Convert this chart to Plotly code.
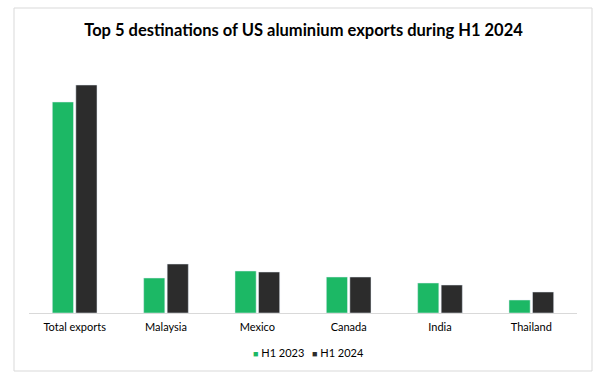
import plotly.graph_objects as go

categories = ["Total exports", "Malaysia", "Mexico", "Canada", "India", "Thailand"]
h1_2023 = [211, 35, 42, 36, 30, 13]
h1_2024 = [228, 49, 41, 36, 28, 21]
series_names = ["H1 2023", "H1 2024"]
series_colors = ["#1CB865", "#2C2C2C"]
title_text = "Top 5 destinations of US aluminium exports during H1 2024"

W, H = 607, 388
L, R, T, B = 29, 30, 70, 75
pw, ph = W - L - R, H - T - B

def px_x(x):
    return (x - L) / pw

def px_y(y):
    return (H - B - y) / ph

fig = go.Figure()
fig.add_trace(go.Bar(x=categories, y=h1_2023, name=series_names[0], marker_color=series_colors[0]))
fig.add_trace(go.Bar(x=categories, y=h1_2024, name=series_names[1], marker_color=series_colors[1]))

legend_x = [251, 310]
annotations = []
for name, color, lx in zip(series_names, series_colors, legend_x):
    annotations.append(dict(
        xref="paper", yref="paper", x=px_x(lx), y=px_y(352), xanchor="left", yanchor="middle",
        showarrow=False,
        text=f"<span style='color:{color};font-size:9px'>■</span> {name}",
        font=dict(size=11, color="black", family="Lato"),
    ))

fig.update_layout(
    width=W, height=H,
    margin=dict(l=L, r=R, t=T, b=B),
    paper_bgcolor="white", plot_bgcolor="white",
    barmode="group", bargap=0.485, bargroupgap=0.1,
    font=dict(family="Lato", color="black", size=11),
    title=dict(text="<b>" + title_text + "</b>", x=0.5, xanchor="center",
               y=1 - 30 / H, yanchor="middle", font=dict(size=16.5, family="Lato", color="black")),
    xaxis=dict(showline=True, linecolor="#D9D9D9", linewidth=1, ticks="outside", ticklen=4,
               tickcolor="rgba(0,0,0,0)",
               tickfont=dict(size=11, color="black"), showgrid=False),
    yaxis=dict(range=[0, ph], visible=False, showgrid=False, zeroline=False),
    showlegend=False,
    annotations=annotations,
    shapes=[dict(type="rect", xref="paper", yref="paper",
                 x0=px_x(14), x1=px_x(592), y0=px_y(371), y1=px_y(8),
                 line=dict(color="#D9D9D9", width=1), fillcolor="rgba(0,0,0,0)", layer="below")],
)

fig.write_html("out.html", config={"displayModeBar": False},
               post_script="document.body.style.margin='0';document.body.style.padding='0';")
